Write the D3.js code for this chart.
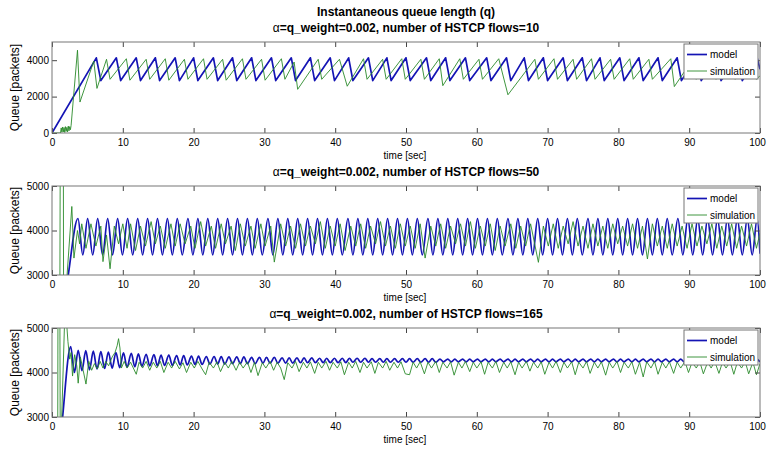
<!DOCTYPE html>
<html>
<head>
<meta charset="utf-8">
<script src="https://cdn.jsdelivr.net/npm/d3@7"></script>
<style>
    body { margin: 0; background: #fff; }
    svg { display: block; }
</style>
</head>
<body>
<div id="queue-chart"></div>
<script>
// Chart text and ticks
const mainTitle = "Instantaneous queue length (q)";
const flowCounts = [10, 50, 165];
const timeTicks = [0, 10, 20, 30, 40, 50, 60, 70, 80, 90, 100];
const queueTicks = [[0, 2000, 4000], [3000, 4000, 5000], [3000, 4000, 5000]];
const queueDomains = [[0, 5000], [3000, 5000], [3000, 5000]];
const legendLabels = ["model", "simulation"];

// [time sec, queue packets]
const model10 = [[0,0],[6.26,4130],[6.9,2880],[9.09,4130],[9.7,2880],[11.9,4130],[12.5,2880],[14.6,4130],[15.2,2880],[17.4,4130],[18.0,2880],[20.0,4130],[20.6,2880],[22.8,4130],[23.4,2880],[25.5,4130],[26.1,2880],[28.2,4130],[28.8,2880],[31.0,4130],[31.6,2880],[33.8,4130],[34.4,2880],[36.5,4130],[37.1,2880],[39.3,4130],[39.9,2880],[41.9,4130],[42.5,2880],[44.7,4130],[45.3,2880],[47.3,4130],[47.9,2880],[50.0,4130],[50.6,2880],[52.9,4130],[53.5,2880],[55.6,4130],[56.2,2880],[58.4,4130],[59.0,2880],[61.4,4130],[62.0,2880],[64.2,4130],[64.8,2880],[66.7,4130],[67.3,2880],[69.4,4130],[70.0,2880],[72.2,4130],[72.8,2880],[74.9,4130],[75.5,2880],[77.4,4130],[78.0,2880],[80.2,4130],[80.8,2880],[82.9,4130],[83.5,2880],[85.6,4130],[86.2,2880],[88.3,4130],[88.9,2880],[91.1,4130],[91.7,2880],[93.9,4130],[94.5,2880],[96.9,4130],[97.5,2880],[99.6,4130],[100,3500]];
const sim10 = [[0,0],[1.2,0],[1.3,280],[1.4,40],[1.5,330],[1.6,60],[1.7,300],[1.8,30],[1.9,350],[2.0,90],[2.1,310],[2.2,60],[2.3,380],[2.4,120],[2.5,350],[2.6,180],[2.7,420],[3.6,4550],[3.95,1700],[5.9,3950],[6.35,2450],[7.7,4050],[8.2,2950],[10.5,4080],[11.0,2900],[13.3,4050],[13.8,2950],[16.0,4080],[16.5,2900],[18.7,4050],[19.2,2950],[21.4,4080],[21.9,2950],[24.1,4050],[24.6,2900],[26.9,4080],[27.4,2950],[29.6,4050],[30.1,2900],[32.4,4080],[32.9,2950],[34.2,3900],[34.7,2400],[37.6,4050],[38.1,2950],[40.6,4050],[41.7,2570],[44.0,4080],[44.5,2950],[46.7,4050],[47.2,2950],[49.4,4080],[49.9,2950],[52.1,4050],[52.6,2950],[54.7,4080],[55.2,2600],[57.6,4080],[58.1,2950],[60.3,4050],[60.8,2950],[63.1,4080],[64.4,2100],[68.2,4050],[68.7,2950],[70.9,4080],[71.4,2950],[73.6,4050],[74.1,2950],[76.2,4080],[76.7,2950],[78.9,4050],[79.4,2950],[81.6,4080],[82.1,2950],[84.3,4050],[84.8,2950],[87.4,4080],[87.9,2550],[90.5,4050],[91.0,2950],[93.3,4050],[93.8,2950],[96.0,4080],[96.5,2950],[99.0,4050],[99.5,2950],[100,3150]];

const model50 = [[0,0],[2.3,3000],[3.67,4270],[4.35,3450],[5.03,4270],[5.75,3450],[6.45,4270],[7.15,3450],[7.86,4270],[8.55,3450],[9.27,4270],[9.95,3450],[10.68,4270],[11.4,3450],[12.1,4270],[12.8,3450],[13.5,4270],[14.2,3450],[14.9,4270],[15.6,3450],[16.3,4270],[17.0,3450],[17.7,4270],[18.4,3450],[19.2,4270],[19.9,3450],[20.6,4270],[21.3,3450],[22.0,4270],[22.7,3450],[23.4,4270],[24.1,3450],[24.8,4270],[25.5,3450],[26.2,4270],[26.9,3450],[27.6,4270],[28.3,3450],[29.0,4270],[29.7,3450],[30.5,4270],[31.2,3450],[31.9,4270],[32.6,3450],[33.3,4270],[34.0,3450],[34.7,4270],[35.4,3450],[36.1,4270],[36.8,3450],[37.5,4270],[38.2,3450],[38.9,4270],[39.6,3450],[40.3,4270],[41.0,3450],[41.8,4270],[42.5,3450],[43.2,4270],[43.9,3450],[44.6,4270],[45.3,3450],[46.0,4270],[46.7,3450],[47.4,4270],[48.1,3450],[48.8,4270],[49.5,3450],[50.2,4270],[50.9,3450],[51.6,4270],[52.3,3450],[53.1,4270],[53.8,3450],[54.5,4270],[55.2,3450],[55.9,4270],[56.6,3450],[57.3,4270],[58.0,3450],[58.7,4270],[59.4,3450],[60.1,4270],[60.8,3450],[61.5,4270],[62.2,3450],[62.9,4270],[63.6,3450],[64.4,4270],[65.1,3450],[65.8,4270],[66.5,3450],[67.2,4270],[67.9,3450],[68.6,4270],[69.3,3450],[70.0,4270],[70.7,3450],[71.4,4270],[72.1,3450],[72.8,4270],[73.5,3450],[74.2,4270],[74.9,3450],[75.7,4270],[76.4,3450],[77.1,4270],[77.8,3450],[78.5,4270],[79.2,3450],[79.9,4270],[80.6,3450],[81.3,4270],[82.0,3450],[82.7,4270],[83.4,3450],[84.1,4270],[84.8,3450],[85.5,4270],[86.2,3450],[86.9,4270],[87.6,3450],[88.4,4270],[89.1,3450],[89.8,4270],[90.5,3450],[91.2,4270],[91.9,3450],[92.6,4270],[93.3,3450],[94.0,4270],[94.7,3450],[95.4,4270],[96.1,3450],[96.8,4270],[97.5,3450],[98.2,4270],[98.9,3450],[99.6,4270],[100,3480]];
const sim50 = [[0,2000],[1.1,2000],[1.17,6000],[1.6,6000],[1.64,2000],[2.0,2700],[2.8,4540],[3.1,3380],[3.6,4000],[3.9,3700],[4.2,4150],[4.8,3600],[5.5,4150],[6.2,3650],[6.9,4100],[7.2,3300],[7.7,3900],[8.2,3140],[8.8,4100],[9.4,3700],[10.0,4150],[10.6,3600],[11.1,4150],[11.8,3550],[12.5,4100],[13.2,3650],[14.0,4200],[14.6,3700],[15.3,4100],[16.0,3600],[16.8,4150],[17.4,3650],[18.1,4150],[18.8,3700],[19.6,4100],[20.2,3600],[21.0,4200],[21.7,3650],[22.5,4100],[23.1,3600],[23.9,4150],[24.5,3700],[25.3,4100],[25.9,3550],[26.6,4150],[27.3,3650],[28.1,4100],[28.7,3600],[29.5,4150],[30.1,3650],[30.9,4100],[31.4,3290],[32.3,4150],[33.0,3650],[33.7,4100],[34.4,3600],[35.1,4150],[35.8,3650],[36.5,4100],[37.2,3700],[37.9,4200],[38.6,3600],[39.3,4100],[40.0,3650],[40.7,4150],[41.4,3550],[42.2,4100],[42.9,3650],[43.6,4150],[44.3,3600],[45.0,4100],[45.7,3700],[46.4,4200],[47.1,3650],[47.8,4100],[48.5,3600],[49.2,4150],[49.9,3650],[50.6,4100],[51.3,3600],[52.0,4150],[52.7,3380],[53.5,4100],[54.2,3650],[54.9,4150],[55.6,3600],[56.3,4100],[57.0,3700],[57.7,4150],[58.4,3650],[59.1,4200],[59.8,3600],[60.5,4100],[61.2,3650],[61.9,4150],[62.6,3550],[63.3,4100],[64.0,3650],[64.8,4150],[65.5,3600],[66.2,4100],[66.9,3650],[67.6,4150],[68.7,3285],[69.4,4100],[70.1,3650],[70.8,4150],[71.5,3600],[72.2,4100],[72.9,3700],[73.6,4200],[74.3,3650],[75.0,4100],[75.7,3600],[76.4,4150],[77.1,3650],[77.8,4100],[78.5,3600],[79.2,4150],[79.9,3700],[80.6,4100],[81.3,3650],[82.0,4150],[82.7,3600],[83.4,4100],[84.1,3360],[84.8,4150],[85.5,3650],[86.2,4100],[86.9,3600],[87.6,4150],[88.3,3650],[89.0,4100],[89.7,3600],[90.4,4150],[91.1,3650],[91.8,4100],[92.5,3700],[93.2,4150],[93.9,3600],[94.6,4100],[95.3,3650],[96.0,4150],[96.7,3600],[97.4,4100],[98.1,3650],[98.8,4150],[99.5,3600],[100,3950]];

const model165 = [[0,0],[1.5,3000],[2.64,4580],[3.17,4000],[3.7,4500],[4.23,4040],[4.77,4490],[5.3,4060],[5.83,4480],[6.36,4080],[6.9,4470],[7.43,4090],[7.96,4460],[8.5,4100],[9.03,4450],[9.56,4110],[10.1,4440],[10.6,4120],[11.2,4430],[11.7,4130],[12.2,4420],[12.7,4140],[13.3,4410],[13.8,4150],[14.4,4400],[14.9,4150],[15.4,4390],[15.9,4160],[16.5,4390],[17.0,4160],[17.6,4380],[18.1,4170],[18.6,4380],[19.1,4170],[19.7,4370],[20.2,4180],[20.7,4370],[21.2,4180],[21.8,4360],[22.3,4190],[22.9,4360],[23.4,4190],[23.9,4360],[24.4,4190],[25.0,4350],[25.5,4200],[26.1,4350],[26.6,4200],[27.1,4350],[27.6,4200],[28.2,4340],[28.7,4200],[29.3,4340],[29.8,4210],[30.3,4340],[30.8,4210],[31.4,4340],[31.9,4210],[32.5,4330],[33.0,4210],[33.5,4330],[34.0,4210],[34.6,4330],[35.1,4220],[35.6,4330],[36.1,4220],[36.7,4330],[37.2,4220],[37.8,4320],[38.3,4220],[38.8,4320],[39.3,4220],[39.9,4320],[40.4,4220],[41.0,4320],[41.5,4220],[42.0,4320],[42.5,4230],[43.1,4320],[43.6,4230],[44.2,4320],[44.7,4230],[45.2,4310],[45.7,4230],[46.3,4310],[46.8,4230],[47.3,4310],[47.8,4230],[48.4,4310],[48.9,4230],[49.5,4310],[50.0,4230],[50.5,4310],[51.0,4230],[51.6,4310],[52.1,4230],[52.7,4310],[53.2,4230],[53.7,4310],[54.2,4230],[54.8,4300],[55.3,4240],[55.9,4300],[56.4,4240],[56.9,4300],[57.4,4240],[58.0,4300],[58.5,4240],[59.0,4300],[59.5,4240],[60.1,4300],[60.6,4240],[61.2,4300],[61.7,4240],[62.2,4300],[62.7,4240],[63.3,4300],[63.8,4240],[64.4,4300],[64.9,4240],[65.4,4300],[65.9,4240],[66.5,4300],[67.0,4240],[67.6,4300],[68.1,4240],[68.6,4300],[69.1,4240],[69.7,4300],[70.2,4240],[70.7,4300],[71.2,4240],[71.8,4300],[72.3,4240],[72.9,4300],[73.4,4240],[73.9,4300],[74.4,4240],[75.0,4300],[75.5,4240],[76.1,4300],[76.6,4240],[77.1,4300],[77.6,4240],[78.2,4300],[78.7,4240],[79.3,4300],[79.8,4240],[80.3,4300],[80.8,4240],[81.4,4300],[81.9,4240],[82.4,4300],[82.9,4240],[83.5,4300],[84.0,4240],[84.6,4300],[85.1,4240],[85.6,4300],[86.1,4240],[86.7,4300],[87.2,4240],[87.8,4300],[88.3,4240],[88.8,4300],[89.3,4240],[89.9,4300],[90.4,4240],[91.0,4300],[91.5,4240],[92.0,4300],[92.5,4240],[93.1,4300],[93.6,4240],[94.1,4300],[94.6,4240],[95.2,4300],[95.7,4240],[96.3,4300],[96.8,4240],[97.3,4300],[97.8,4240],[98.4,4300],[98.9,4240],[99.5,4300],[100,4240]];
const sim165 = [[0,2000],[0.8,2000],[0.85,6000],[1.1,6000],[1.17,2000],[1.3,2600],[1.75,5000],[2.0,5250],[2.25,4700],[2.5,4300],[2.7,4450],[2.9,3920],[3.2,4400],[3.5,4150],[3.7,3760],[4.0,4350],[4.4,4050],[4.8,3740],[5.2,4250],[5.6,4050],[6.0,4200],[6.4,4080],[6.8,4250],[7.2,4100],[7.6,4250],[8.0,4150],[8.5,4350],[8.9,4450],[9.2,4600],[9.4,4760],[9.6,4550],[9.8,4100],[10.2,4250],[10.6,4100],[11.1,4230],[11.9,3960],[12.3,4230],[12.8,4100],[13.3,4250],[13.8,4050],[14.3,4230],[14.8,4100],[15.3,4250],[15.8,4000],[16.4,4230],[16.9,4100],[17.4,4250],[18.0,4080],[18.5,4220],[19.0,4000],[19.6,4230],[20.1,4100],[20.6,4250],[21.2,4080],[21.7,3950],[22.2,4230],[22.8,4100],[23.3,4240],[23.8,4020],[24.4,4230],[24.9,4100],[25.4,4250],[26.0,4050],[26.5,4230],[27.0,4100],[27.6,4240],[28.1,4000],[28.6,4230],[29.1,3930],[29.7,4220],[30.2,4100],[30.8,4250],[31.3,4050],[31.8,4230],[32.3,4100],[32.8,3840],[33.3,4220],[33.9,4100],[34.4,4250],[34.9,4020],[35.5,4230],[36.0,4100],[36.5,4240],[37.1,3980],[37.6,4230],[38.1,4100],[38.7,4250],[39.2,4050],[39.7,4230],[40.3,4100],[40.8,4240],[41.3,3950],[41.9,4230],[42.4,4100],[42.9,4250],[43.5,4000],[44.0,4230],[44.5,4100],[45.1,4240],[45.6,3980],[46.1,4230],[46.7,4100],[47.2,4250],[47.7,4050],[48.3,4230],[48.8,4100],[49.3,4240],[49.9,3970],[50.5,3950],[51.0,4230],[51.5,4100],[52.0,4240],[52.6,3970],[53.1,4230],[53.6,4100],[54.2,4250],[54.7,4000],[55.2,4230],[55.8,4100],[56.3,4240],[56.8,3940],[57.4,4230],[57.9,4100],[58.4,4250],[59.0,4020],[59.5,4230],[60.0,4100],[60.6,4240],[61.1,3960],[61.6,4230],[62.2,4100],[62.7,4250],[63.2,4000],[63.8,4230],[64.3,4100],[64.8,4240],[65.4,3950],[65.9,4230],[66.4,4100],[67.0,4250],[67.5,4030],[68.0,4230],[68.6,4100],[69.1,4240],[69.6,3960],[70.2,4230],[70.7,4100],[71.2,4250],[71.8,4000],[72.3,4230],[72.8,4100],[73.4,4240],[73.9,3950],[74.4,4230],[75.0,4100],[75.5,4250],[76.0,3980],[76.6,4230],[77.1,4100],[77.6,4240],[78.2,3940],[78.7,4230],[79.2,4100],[79.8,4250],[80.3,4000],[80.8,4230],[81.4,4100],[81.9,4240],[82.4,3960],[83.0,4230],[83.5,3900],[84.0,4240],[84.6,4100],[85.1,4250],[85.6,3960],[86.2,4230],[86.7,4100],[87.2,4240],[87.8,3980],[88.3,4230],[88.8,4100],[89.4,4250],[89.9,4000],[90.4,4230],[91.0,4100],[91.5,4240],[92.0,3970],[92.6,4230],[93.1,4100],[93.6,4250],[94.2,3980],[94.7,4230],[95.2,4100],[95.8,4240],[96.3,3960],[96.8,4230],[97.4,4100],[97.9,4250],[98.4,3970],[99.0,4230],[99.5,3950],[100,4200]];

const modelSeries = [model10, model50, model165];
const simSeries = [sim10, sim50, sim165];

const FONT = "'Liberation Sans', Arial, Helvetica, sans-serif";
const colors = ["#1414b4", "#2a8a2a"];
const frameColor = "#767676";

/**
 * Sets up the svg for the whole figure.
 */
function initializeSVG() {
    const width = 767, height = 451;
    const svg = d3.select("#queue-chart")
        .append("svg")
        .attr("width", width)
        .attr("height", height)
        .style("font-family", FONT);
    svg.append("rect")
        .attr("width", width)
        .attr("height", height)
        .attr("fill", "#fff");
    return svg;
}

/**
 * Draws one subplot: axes, both lines, legend, labels.
 */
function drawPanel(svg, i, top, height) {
    const left = 52, right = 760;
    const bottom = top + height;
    const x = d3.scaleLinear().domain([0, 100]).range([left, right]);
    const y = d3.scaleLinear().domain(queueDomains[i]).range([bottom, top]);

    const clipId = "clip" + i;
    svg.append("clipPath")
        .attr("id", clipId)
        .append("rect")
        .attr("x", left)
        .attr("y", top)
        .attr("width", right - left)
        .attr("height", height);

    // lines
    const line = d3.line()
        .x(d => x(d[0]))
        .y(d => y(d[1]));
    const plot = svg.append("g").attr("clip-path", `url(#${clipId})`);
    plot.append("path")
        .datum(modelSeries[i])
        .attr("fill", "none")
        .attr("stroke", colors[0])
        .attr("stroke-width", 1.7)
        .attr("stroke-linejoin", "round")
        .attr("d", i === 0 ? line.curve(d3.curveLinear) : line.curve(d3.curveMonotoneX));
    plot.append("path")
        .datum(simSeries[i])
        .attr("fill", "none")
        .attr("stroke", colors[1])
        .attr("stroke-width", 0.9)
        .attr("stroke-linejoin", "round")
        .attr("d", line.curve(d3.curveLinear));

    // axes with inward ticks on all four sides
    const styleAxis = g => {
        g.select(".domain").remove();
        g.selectAll(".tick line").attr("stroke", "#444");
        g.selectAll(".tick text")
            .attr("fill", "#000")
            .style("font-family", FONT)
            .style("font-size", "10px");
    };
    svg.append("g")
        .attr("transform", `translate(0,${bottom})`)
        .call(d3.axisBottom(x).tickValues(timeTicks).tickSizeInner(-5).tickSizeOuter(0).tickPadding(6))
        .call(styleAxis)
        .selectAll(".tick text")
        .filter(d => d === 100)
        .attr("dx", -3);
    svg.append("g")
        .attr("transform", `translate(0,${top})`)
        .call(d3.axisTop(x).tickValues(timeTicks).tickSizeInner(-5).tickSizeOuter(0).tickFormat(""))
        .call(styleAxis);
    svg.append("g")
        .attr("transform", `translate(${left},0)`)
        .call(d3.axisLeft(y).tickValues(queueTicks[i]).tickSizeInner(-5).tickSizeOuter(0).tickPadding(3).tickFormat(d3.format("d")))
        .call(styleAxis);
    svg.append("g")
        .attr("transform", `translate(${right},0)`)
        .call(d3.axisRight(y).tickValues(queueTicks[i]).tickSizeInner(-5).tickSizeOuter(0).tickFormat(""))
        .call(styleAxis);

    svg.append("rect")
        .attr("x", left)
        .attr("y", top)
        .attr("width", right - left)
        .attr("height", height)
        .attr("fill", "none")
        .attr("stroke", frameColor)
        .attr("stroke-width", 1);

    // subplot title
    const t = svg.append("text")
        .attr("x", 406)
        .attr("y", top - 10)
        .attr("text-anchor", "middle")
        .attr("font-size", 12)
        .attr("font-weight", "bold");
    t.append("tspan").attr("font-weight", "normal").text("α");
    t.append("tspan").text(`=q_weight=0.002, number of HSTCP flows=${flowCounts[i]}`);

    svg.append("text")
        .attr("x", 405)
        .attr("y", bottom + 26)
        .attr("text-anchor", "middle")
        .attr("font-size", 10)
        .text("time [sec]");

    svg.append("text")
        .attr("transform", `translate(19,${top + height / 2}) rotate(-90)`)
        .attr("text-anchor", "middle")
        .attr("font-size", 12)
        .text("Queue [packets]");

    drawLegend(svg, top + 2);
}

/**
 * Legend box in the upper right corner of a subplot.
 */
function drawLegend(svg, top) {
    const lx = 684, w = 74, h = 35;
    svg.append("rect")
        .attr("x", lx)
        .attr("y", top)
        .attr("width", w)
        .attr("height", h)
        .attr("fill", "#fff")
        .attr("stroke", frameColor);
    const item = svg.append("g")
        .selectAll("g")
        .data(legendLabels)
        .enter().append("g")
        .attr("transform", (d, k) => `translate(${lx},${top + 10.5 + k * 16.5})`);
    item.append("line")
        .attr("x1", 3)
        .attr("x2", 23)
        .attr("stroke", (d, k) => colors[k])
        .attr("stroke-width", (d, k) => k === 0 ? 1.7 : 0.9);
    item.append("text")
        .attr("x", 26)
        .attr("dy", "0.35em")
        .attr("font-size", 10)
        .text(d => d);
}

function addQueueChart() {
    const svg = initializeSVG();
    svg.append("text")
        .attr("x", 406)
        .attr("y", 16)
        .attr("text-anchor", "middle")
        .attr("font-size", 12)
        .attr("font-weight", "bold")
        .text(mainTitle);
    drawPanel(svg, 0, 42, 91);
    drawPanel(svg, 1, 186, 89);
    drawPanel(svg, 2, 328, 89);
}

addQueueChart();
</script>
</body>
</html>
